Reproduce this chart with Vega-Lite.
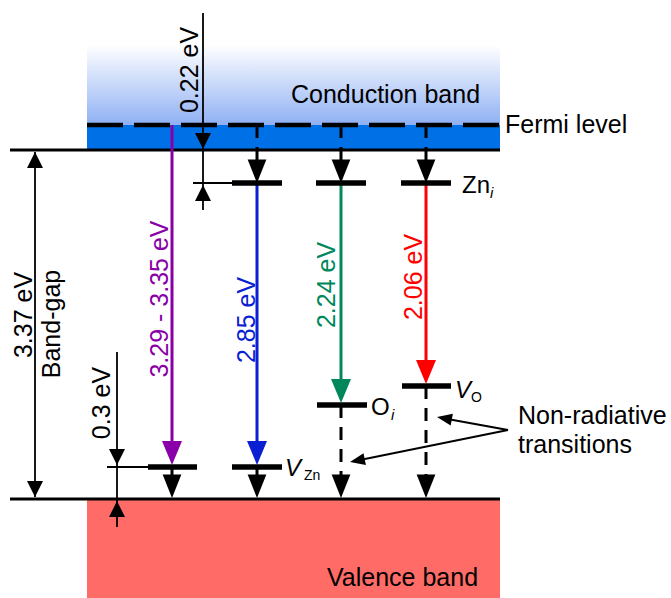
{
  "$schema": "https://vega.github.io/schema/vega-lite/v6.json",
  "width": 671,
  "height": 598,
  "autosize": "none",
  "padding": 0,
  "background": "white",
  "config": {"view": {"stroke": null}, "text": {"font": "Liberation Sans"}},
  "datasets": {
    "gradientBand": [{"x": 87, "x2": 500, "y": 45, "y2": 125}],
    "bands": [
      {"band": "conduction", "x": 87, "x2": 500, "y": 125, "y2": 150},
      {"band": "valence", "x": 87, "x2": 500, "y": 499, "y2": 598}
    ],
    "edges": [
      {"x": 10, "y": 150, "x2": 500, "y2": 150},
      {"x": 10, "y": 499, "x2": 500, "y2": 499}
    ],
    "fermi": [{"x": 87, "y": 125, "x2": 500, "y2": 125}],
    "levels": [
      {"x": 232, "y": 183, "x2": 282, "y2": 183},
      {"x": 316, "y": 183, "x2": 366, "y2": 183},
      {"x": 401, "y": 183, "x2": 451, "y2": 183},
      {"x": 148, "y": 467, "x2": 197, "y2": 467},
      {"x": 232, "y": 467, "x2": 282, "y2": 467},
      {"x": 317, "y": 405, "x2": 367, "y2": 405},
      {"x": 402, "y": 386, "x2": 451, "y2": 386}
    ],
    "dashed": [
      {"x": 257, "y": 125, "x2": 257, "y2": 170},
      {"x": 341, "y": 125, "x2": 341, "y2": 170},
      {"x": 426, "y": 125, "x2": 426, "y2": 170},
      {"x": 341, "y": 405, "x2": 341, "y2": 485},
      {"x": 426, "y": 386, "x2": 426, "y2": 485}
    ],
    "solidStems": [
      {"x": 172, "y": 467, "x2": 172, "y2": 485},
      {"x": 257, "y": 467, "x2": 257, "y2": 485}
    ],
    "transitions": [
      {"series": "band", "x": 172, "y": 125, "x2": 172, "y2": 455, "tip": 465},
      {"series": "VZn", "x": 257, "y": 183, "x2": 257, "y2": 455, "tip": 465},
      {"series": "Oi", "x": 341, "y": 183, "x2": 341, "y2": 392, "tip": 403},
      {"series": "VO", "x": 426, "y": 183, "x2": 426, "y2": 374, "tip": 384}
    ],
    "thin": [
      {"x": 35, "y": 152, "x2": 35, "y2": 497},
      {"x": 203, "y": 13, "x2": 203, "y2": 210},
      {"x": 193, "y": 183, "x2": 232, "y2": 183},
      {"x": 117, "y": 352, "x2": 117, "y2": 527},
      {"x": 107, "y": 467, "x2": 148, "y2": 467},
      {"x": 508, "y": 430, "x2": 442, "y2": 418},
      {"x": 508, "y": 430, "x2": 355, "y2": 461}
    ],
    "blackHeads": [
      {"x": 257, "y": 183, "dir": "down"},
      {"x": 341, "y": 183, "dir": "down"},
      {"x": 426, "y": 183, "dir": "down"},
      {"x": 172, "y": 498, "dir": "down"},
      {"x": 257, "y": 498, "dir": "down"},
      {"x": 341, "y": 498, "dir": "down"},
      {"x": 426, "y": 498, "dir": "down"}
    ],
    "dimHeads": [
      {"x": 35, "y": 152, "dir": "up"},
      {"x": 35, "y": 497, "dir": "down"},
      {"x": 203, "y": 149, "dir": "down"},
      {"x": 203, "y": 185, "dir": "up"},
      {"x": 117, "y": 465, "dir": "down"},
      {"x": 117, "y": 501, "dir": "up"}
    ],
    "nonRadHeads": [
      {"arrow": "upper", "x": 437, "y": 417},
      {"arrow": "lower", "x": 350, "y": 462}
    ],
    "labels": [
      {"t": "Conduction band", "x": 291, "y": 103},
      {"t": "Valence band", "x": 327, "y": 586},
      {"t": "Fermi level", "x": 505, "y": 133},
      {"t": "Non-radiative", "x": 518, "y": 424},
      {"t": "transitions", "x": 518, "y": 453}
    ],
    "levelLabels": [
      {"t": "Zn", "x": 462, "y": 193},
      {"t": "O", "x": 371, "y": 415}
    ],
    "italicLabels": [
      {"t": "V", "x": 455, "y": 398},
      {"t": "V", "x": 285, "y": 476}
    ],
    "subLabels": [
      {"t": "O", "x": 471, "y": 402},
      {"t": "Zn", "x": 304, "y": 480}
    ],
    "subItalic": [
      {"t": "i", "x": 490, "y": 198},
      {"t": "i", "x": 391, "y": 420}
    ],
    "rotLabels": [
      {"t": "3.37 eV", "x": 32, "y": 315},
      {"t": "Band-gap", "x": 60, "y": 324},
      {"t": "0.3 eV", "x": 110, "y": 403},
      {"t": "0.22 eV", "x": 198, "y": 70}
    ],
    "energyLabels": [
      {"series": "band", "t": "3.29 - 3.35 eV", "x": 168, "y": 299},
      {"series": "VZn", "t": "2.85 eV", "x": 255, "y": 320},
      {"series": "Oi", "t": "2.24 eV", "x": 335, "y": 285},
      {"series": "VO", "t": "2.06 eV", "x": 422, "y": 277}
    ]
  },
  "layer": [
    {
      "data": {"name": "gradientBand"},
      "mark": {"type": "rect", "fill": {"gradient": "linear", "x1": 0, "y1": 0, "x2": 0, "y2": 1, "stops": [{"offset": 0, "color": "#ffffff"}, {"offset": 1, "color": "#8fb0f4"}]}},
      "encoding": {
        "x": {"field": "x", "type": "quantitative", "scale": {"domain": [0, 671], "nice": false, "zero": false}, "axis": null},
        "x2": {"field": "x2"},
        "y": {"field": "y", "type": "quantitative", "scale": {"domain": [598, 0], "nice": false, "zero": false}, "axis": null},
        "y2": {"field": "y2"}
      }
    },
    {
      "data": {"name": "bands"},
      "mark": {"type": "rect"},
      "encoding": {
        "x": {"field": "x", "type": "quantitative", "axis": null},
        "x2": {"field": "x2"},
        "y": {"field": "y", "type": "quantitative", "axis": null},
        "y2": {"field": "y2"},
        "fill": {"field": "band", "type": "nominal", "scale": {"domain": ["conduction", "valence"], "range": ["#0070e6", "#ff6b66"]}, "legend": null}
      }
    },
    {
      "data": {"name": "fermi"},
      "mark": {"type": "rule", "color": "black", "strokeWidth": 4.5, "strokeDash": [36, 11]},
      "encoding": {
        "x": {"field": "x", "type": "quantitative"}, "x2": {"field": "x2"},
        "y": {"field": "y", "type": "quantitative"}, "y2": {"field": "y2"}
      }
    },
    {
      "data": {"name": "edges"},
      "mark": {"type": "rule", "color": "black", "strokeWidth": 3},
      "encoding": {
        "x": {"field": "x", "type": "quantitative"}, "x2": {"field": "x2"},
        "y": {"field": "y", "type": "quantitative"}, "y2": {"field": "y2"}
      }
    },
    {
      "data": {"name": "dashed"},
      "mark": {"type": "rule", "color": "black", "strokeWidth": 3, "strokeDash": [13, 9]},
      "encoding": {
        "x": {"field": "x", "type": "quantitative"}, "x2": {"field": "x2"},
        "y": {"field": "y", "type": "quantitative"}, "y2": {"field": "y2"}
      }
    },
    {
      "data": {"name": "solidStems"},
      "mark": {"type": "rule", "color": "black", "strokeWidth": 3},
      "encoding": {
        "x": {"field": "x", "type": "quantitative"}, "x2": {"field": "x2"},
        "y": {"field": "y", "type": "quantitative"}, "y2": {"field": "y2"}
      }
    },
    {
      "data": {"name": "thin"},
      "mark": {"type": "rule", "color": "black", "strokeWidth": 1.8},
      "encoding": {
        "x": {"field": "x", "type": "quantitative"}, "x2": {"field": "x2"},
        "y": {"field": "y", "type": "quantitative"}, "y2": {"field": "y2"}
      }
    },
    {
      "data": {"name": "transitions"},
      "mark": {"type": "rule", "strokeWidth": 3},
      "encoding": {
        "x": {"field": "x", "type": "quantitative"}, "x2": {"field": "x2"},
        "y": {"field": "y", "type": "quantitative"}, "y2": {"field": "y2"},
        "color": {"field": "series", "type": "nominal", "scale": {"domain": ["band", "VZn", "Oi", "VO"], "range": ["#8a00a8", "#0a1ed2", "#00875c", "#ff0000"]}, "legend": null}
      }
    },
    {
      "data": {"name": "levels"},
      "mark": {"type": "rule", "color": "black", "strokeWidth": 5.5},
      "encoding": {
        "x": {"field": "x", "type": "quantitative"}, "x2": {"field": "x2"},
        "y": {"field": "y", "type": "quantitative"}, "y2": {"field": "y2"}
      }
    },
    {
      "data": {"name": "transitions"},
      "mark": {"type": "point", "filled": true, "opacity": 1, "size": 400, "shape": "M0,0L-1,-2.4L1,-2.4Z"},
      "encoding": {
        "x": {"field": "x", "type": "quantitative"},
        "y": {"field": "tip", "type": "quantitative"},
        "color": {"field": "series", "type": "nominal", "legend": null}
      }
    },
    {
      "data": {"name": "blackHeads"},
      "mark": {"type": "point", "filled": true, "opacity": 1, "size": 350, "color": "black", "shape": "M0,0L-1,-2.5L1,-2.5Z"},
      "encoding": {
        "x": {"field": "x", "type": "quantitative"},
        "y": {"field": "y", "type": "quantitative"}
      }
    },
    {
      "data": {"name": "dimHeads"},
      "mark": {"type": "point", "filled": true, "opacity": 1, "size": 256, "color": "black"},
      "encoding": {
        "x": {"field": "x", "type": "quantitative"},
        "y": {"field": "y", "type": "quantitative"},
        "shape": {"field": "dir", "type": "nominal", "scale": {"domain": ["down", "up"], "range": ["M0,0L-1,-2L1,-2Z", "M0,0L-1,2L1,2Z"]}, "legend": null}
      }
    },
    {
      "data": {"name": "nonRadHeads"},
      "transform": [{"filter": "datum.arrow === 'upper'"}],
      "mark": {"type": "point", "filled": true, "opacity": 1, "size": 225, "color": "black", "shape": "M0,0L-0.8,-2L0.8,-2Z", "angle": 100.4},
      "encoding": {
        "x": {"field": "x", "type": "quantitative"},
        "y": {"field": "y", "type": "quantitative"}
      }
    },
    {
      "data": {"name": "nonRadHeads"},
      "transform": [{"filter": "datum.arrow === 'lower'"}],
      "mark": {"type": "point", "filled": true, "opacity": 1, "size": 225, "color": "black", "shape": "M0,0L-0.8,-2L0.8,-2Z", "angle": 78.6},
      "encoding": {
        "x": {"field": "x", "type": "quantitative"},
        "y": {"field": "y", "type": "quantitative"}
      }
    },
    {
      "data": {"name": "labels"},
      "mark": {"type": "text", "fontSize": 25, "align": "left", "baseline": "alphabetic", "color": "black"},
      "encoding": {
        "x": {"field": "x", "type": "quantitative"},
        "y": {"field": "y", "type": "quantitative"},
        "text": {"field": "t"}
      }
    },
    {
      "data": {"name": "levelLabels"},
      "mark": {"type": "text", "fontSize": 24, "align": "left", "baseline": "alphabetic", "color": "black"},
      "encoding": {
        "x": {"field": "x", "type": "quantitative"},
        "y": {"field": "y", "type": "quantitative"},
        "text": {"field": "t"}
      }
    },
    {
      "data": {"name": "italicLabels"},
      "mark": {"type": "text", "fontSize": 24, "fontStyle": "italic", "align": "left", "baseline": "alphabetic", "color": "black"},
      "encoding": {
        "x": {"field": "x", "type": "quantitative"},
        "y": {"field": "y", "type": "quantitative"},
        "text": {"field": "t"}
      }
    },
    {
      "data": {"name": "subLabels"},
      "mark": {"type": "text", "fontSize": 14, "align": "left", "baseline": "alphabetic", "color": "black"},
      "encoding": {
        "x": {"field": "x", "type": "quantitative"},
        "y": {"field": "y", "type": "quantitative"},
        "text": {"field": "t"}
      }
    },
    {
      "data": {"name": "subItalic"},
      "mark": {"type": "text", "fontSize": 15, "fontStyle": "italic", "align": "left", "baseline": "alphabetic", "color": "black"},
      "encoding": {
        "x": {"field": "x", "type": "quantitative"},
        "y": {"field": "y", "type": "quantitative"},
        "text": {"field": "t"}
      }
    },
    {
      "data": {"name": "rotLabels"},
      "mark": {"type": "text", "fontSize": 25, "angle": 270, "align": "center", "baseline": "alphabetic", "color": "black"},
      "encoding": {
        "x": {"field": "x", "type": "quantitative"},
        "y": {"field": "y", "type": "quantitative"},
        "text": {"field": "t"}
      }
    },
    {
      "data": {"name": "energyLabels"},
      "mark": {"type": "text", "fontSize": 25, "angle": 270, "align": "center", "baseline": "alphabetic"},
      "encoding": {
        "x": {"field": "x", "type": "quantitative"},
        "y": {"field": "y", "type": "quantitative"},
        "text": {"field": "t"},
        "color": {"field": "series", "type": "nominal", "legend": null}
      }
    }
  ]
}
